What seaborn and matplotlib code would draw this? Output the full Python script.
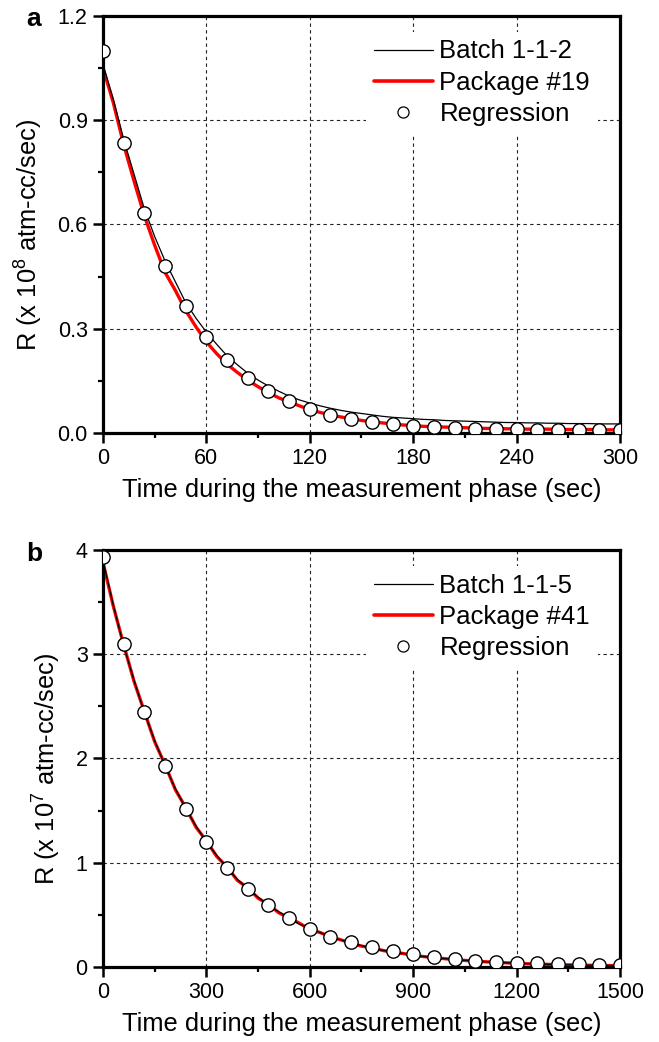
import numpy as np
import pandas as pd
import seaborn as sns
import matplotlib
matplotlib.use("Agg")
import matplotlib.pyplot as plt
from matplotlib.lines import Line2D
from matplotlib.ticker import MultipleLocator, FormatStrFormatter

# ---------------- data: panel a ----------------
t_a_line = [0, 6, 12, 18, 24, 30, 36, 42, 48, 54, 60, 66, 72, 78, 84, 90, 96, 102, 108, 114,
            120, 126, 132, 138, 144, 150, 156, 162, 168, 174, 180, 186, 192, 198, 204, 210,
            216, 222, 228, 234, 240, 246, 252, 258, 264, 270, 276, 282, 288, 294, 300]
batch_a = [1.06, 0.96, 0.845, 0.745, 0.645, 0.565, 0.495, 0.435, 0.375, 0.33, 0.29, 0.255,
           0.222, 0.196, 0.172, 0.152, 0.135, 0.12, 0.106, 0.095, 0.086, 0.078, 0.071,
           0.065, 0.06, 0.056, 0.052, 0.048, 0.045, 0.043, 0.041, 0.039, 0.038, 0.036,
           0.035, 0.034, 0.033, 0.032, 0.031, 0.030, 0.030, 0.029, 0.029, 0.028, 0.028,
           0.027, 0.027, 0.027, 0.026, 0.026, 0.026]
package_a = [1.05, 0.95, 0.83, 0.725, 0.625, 0.54, 0.462, 0.41, 0.352, 0.305, 0.262, 0.228,
             0.198, 0.174, 0.152, 0.133, 0.116, 0.101, 0.089, 0.078, 0.067, 0.059, 0.052,
             0.046, 0.041, 0.036, 0.032, 0.029, 0.026, 0.023, 0.021, 0.019, 0.018, 0.017,
             0.016, 0.015, 0.014, 0.013, 0.013, 0.012, 0.012, 0.011, 0.011, 0.011, 0.010,
             0.010, 0.010, 0.010, 0.009, 0.009, 0.009]
t_a_reg = [0, 12, 24, 36, 48, 60, 72, 84, 96, 108, 120, 132, 144, 156, 168, 180, 192, 204,
           216, 228, 240, 252, 264, 276, 288, 300]
reg_a = [1.10, 0.835, 0.632, 0.48, 0.364, 0.276, 0.21, 0.159, 0.121, 0.092, 0.07, 0.053,
         0.041, 0.032, 0.025, 0.02, 0.016, 0.014, 0.012, 0.011, 0.010, 0.009, 0.009,
         0.008, 0.008, 0.008]

# ---------------- data: panel b ----------------
t_b_line = [0, 30, 60, 90, 120, 150, 180, 210, 240, 270, 300, 330, 360, 390, 420, 450, 480,
            510, 540, 570, 600, 630, 660, 690, 720, 750, 780, 810, 840, 870, 900, 930, 960,
            990, 1020, 1050, 1080, 1110, 1140, 1170, 1200, 1230, 1260, 1290, 1320, 1350,
            1380, 1410, 1440, 1470, 1500]
batch_b = [3.90, 3.47, 3.08, 2.75, 2.44, 2.17, 1.93, 1.71, 1.52, 1.35, 1.20, 1.07, 0.95,
           0.84, 0.75, 0.67, 0.59, 0.53, 0.47, 0.41, 0.37, 0.33, 0.29, 0.26, 0.23, 0.205,
           0.18, 0.16, 0.145, 0.13, 0.115, 0.10, 0.09, 0.08, 0.072, 0.064, 0.057, 0.05,
           0.045, 0.04, 0.036, 0.032, 0.029, 0.026, 0.023, 0.021, 0.019, 0.017, 0.015,
           0.014, 0.013]
package_b = [3.88, 3.46, 3.09, 2.74, 2.45, 2.16, 1.94, 1.70, 1.53, 1.34, 1.21, 1.06, 0.96,
             0.83, 0.76, 0.66, 0.60, 0.52, 0.47, 0.42, 0.36, 0.33, 0.29, 0.26, 0.23, 0.20,
             0.185, 0.16, 0.14, 0.13, 0.11, 0.10, 0.09, 0.08, 0.07, 0.063, 0.056, 0.05,
             0.044, 0.04, 0.035, 0.031, 0.028, 0.025, 0.022, 0.02, 0.018, 0.016, 0.015,
             0.013, 0.012]
t_b_reg = [0, 60, 120, 180, 240, 300, 360, 420, 480, 540, 600, 660, 720, 780, 840, 900,
           960, 1020, 1080, 1140, 1200, 1260, 1320, 1380, 1440, 1500]
reg_b = [3.93, 3.10, 2.45, 1.93, 1.52, 1.20, 0.95, 0.75, 0.59, 0.465, 0.36, 0.29, 0.235,
         0.19, 0.15, 0.12, 0.095, 0.078, 0.062, 0.05, 0.042, 0.035, 0.03, 0.025, 0.022,
         0.02]

sns.set_theme(style="white")
plt.rcParams["font.family"] = ["Liberation Sans", "DejaVu Sans"]
plt.rcParams["mathtext.fontset"] = "custom"
plt.rcParams["mathtext.rm"] = "Liberation Sans"
plt.rcParams["mathtext.it"] = "Liberation Sans:italic"
plt.rcParams["text.color"] = "black"
plt.rcParams["axes.labelcolor"] = "black"
plt.rcParams["xtick.color"] = "black"
plt.rcParams["ytick.color"] = "black"

fig = plt.figure(figsize=(6.59, 10.42), dpi=100)
ax_a = fig.add_axes([0.1563, 0.5845, 0.7845, 0.4002])
ax_b = fig.add_axes([0.1563, 0.0720, 0.7845, 0.4002])

TICK_FS = 15.5
LABEL_FS = 18.4
LEG_FS = 18.5


def draw(ax, t_line, batch, package, t_reg, reg, batch_lbl, pkg_lbl):
    sns.lineplot(x=t_line, y=package, ax=ax, color="#ff0000", lw=2.4, zorder=2)
    sns.lineplot(x=t_line, y=batch, ax=ax, color="black", lw=0.9, zorder=3)
    sns.scatterplot(x=t_reg, y=reg, ax=ax, s=92, facecolor="white", edgecolor="black",
                    linewidth=1.0, zorder=4, clip_on=True)
    handles = [Line2D([], [], color="black", lw=0.9),
               Line2D([], [], color="#ff0000", lw=2.6),
               Line2D([], [], ls="none", marker="o", markersize=8, markerfacecolor="white",
                      markeredgecolor="black", markeredgewidth=0.9)]
    leg = ax.legend(handles, [batch_lbl, pkg_lbl, "Regression"], loc="upper right",
                    bbox_to_anchor=(0.957, 0.962), frameon=True, framealpha=1,
                    edgecolor="none", facecolor="white", fontsize=LEG_FS,
                    handlelength=2.3, handletextpad=0.25, labelspacing=0.28,
                    borderpad=0.3, fancybox=False, borderaxespad=0)
    leg.set_zorder(5)
    ax.grid(True, which="major", color="#222222", ls=(0, (3, 3)), lw=0.8)
    for s in ax.spines.values():
        s.set_visible(True)
        s.set_linewidth(2.3)
        s.set_color("black")
    ax.tick_params(which="major", direction="out", length=7, width=1.8, labelsize=TICK_FS,
                   left=True, bottom=True, pad=4.0, colors="black")
    ax.tick_params(which="minor", direction="out", length=3.8, width=1.6, left=True,
                   bottom=True)
    ax.tick_params(which="both", top=False, right=False)
    ax.set_xlabel("Time during the measurement phase (sec)", fontsize=LABEL_FS, labelpad=6)


draw(ax_a, t_a_line, batch_a, package_a, t_a_reg, reg_a, "Batch 1-1-2", "Package #19")
ax_a.set_xlim(0, 300)
ax_a.set_ylim(0, 1.2)
ax_a.xaxis.set_major_locator(MultipleLocator(60))
ax_a.xaxis.set_minor_locator(MultipleLocator(30))
ax_a.yaxis.set_major_locator(MultipleLocator(0.3))
ax_a.yaxis.set_minor_locator(MultipleLocator(0.15))
ax_a.yaxis.set_major_formatter(FormatStrFormatter("%.1f"))
ax_a.set_ylabel(r"R (x 10$^{\mathrm{8}}$ atm-cc/sec)", fontsize=LABEL_FS, labelpad=9)
ax_a.yaxis.label.set_y(0.474)

draw(ax_b, t_b_line, batch_b, package_b, t_b_reg, reg_b, "Batch 1-1-5", "Package #41")
ax_b.set_xlim(0, 1500)
ax_b.set_ylim(0, 4)
ax_b.xaxis.set_major_locator(MultipleLocator(300))
ax_b.xaxis.set_minor_locator(MultipleLocator(150))
ax_b.yaxis.set_major_locator(MultipleLocator(1))
ax_b.yaxis.set_minor_locator(MultipleLocator(0.5))
ax_b.set_ylabel(r"R (x 10$^{\mathrm{7}}$ atm-cc/sec)", fontsize=LABEL_FS, labelpad=9)
ax_b.yaxis.label.set_y(0.474)

fig.text(0.040, 0.993, "a", fontsize=19, fontweight="bold", va="top", ha="left")
fig.text(0.040, 0.4795, "b", fontsize=19, fontweight="bold", va="top", ha="left")

fig.savefig("out.png", dpi=100)
